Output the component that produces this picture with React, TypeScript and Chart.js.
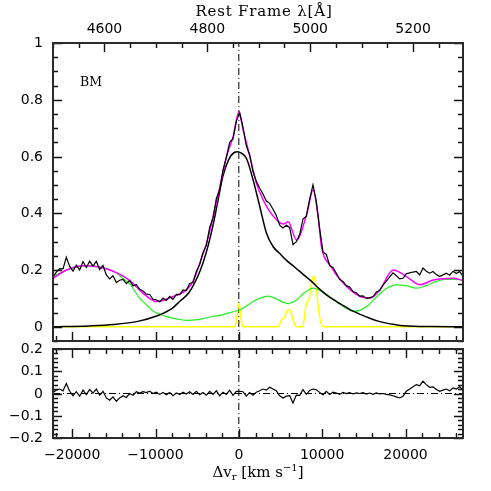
import React, { useEffect, useRef } from 'react';
import { Chart, registerables } from 'chart.js';

Chart.register(...registerables);

const V_MIN = -22300;
const V_MAX = 26900;
const LAMBDA_MIN = 4500;
const LAMBDA_MAX = 5297;

const V_START = -22300;
const V_STEP = 400;

const SPECTRUM = [
  0.176, 0.193, 0.205, 0.204, 0.245, 0.213, 0.196, 0.217, 0.200, 0.230,
  0.209, 0.231, 0.214, 0.231, 0.202, 0.216, 0.183, 0.169, 0.180, 0.156,
  0.164, 0.167, 0.152, 0.163, 0.144, 0.149, 0.132, 0.126, 0.115, 0.114,
  0.097, 0.095, 0.088, 0.101, 0.093, 0.107, 0.097, 0.114, 0.113, 0.130,
  0.128, 0.153, 0.156, 0.195, 0.219, 0.262, 0.286, 0.350, 0.384, 0.452,
  0.483, 0.552, 0.596, 0.650, 0.662, 0.725, 0.755, 0.703, 0.638, 0.606,
  0.547, 0.513, 0.489, 0.468, 0.443, 0.435, 0.414, 0.392, 0.358, 0.348,
  0.358, 0.350, 0.290, 0.300, 0.325, 0.380, 0.390, 0.450, 0.500, 0.440,
  0.345, 0.264, 0.255, 0.215, 0.209, 0.189, 0.167, 0.160, 0.145, 0.140,
  0.124, 0.120, 0.108, 0.109, 0.100, 0.103, 0.106, 0.123, 0.128, 0.147,
  0.161, 0.176, 0.190, 0.180, 0.169, 0.171, 0.187, 0.190, 0.193, 0.195,
  0.183, 0.207, 0.196, 0.189, 0.195, 0.184, 0.177, 0.183, 0.189, 0.182,
  0.196, 0.188, 0.195, 0.178,
];

const RESIDUAL = [
  0.005, 0.015, 0.020, 0.012, 0.045, 0.010, -0.010, 0.008, -0.012, 0.015,
  -0.005, 0.018, 0.002, 0.020, -0.008, 0.010, -0.020, -0.030, -0.015, -0.035,
  -0.020, -0.010, -0.018, 0.000, -0.008, 0.008, 0.002, 0.008, 0.004, 0.010,
  0.000, 0.006, -0.004, 0.005, -0.006, 0.004, -0.010, 0.002, -0.005, 0.006,
  -0.002, 0.008, -0.004, 0.010, -0.006, 0.004, -0.008, 0.010, -0.004, 0.012,
  -0.010, 0.006, -0.004, 0.015, -0.008, 0.010, 0.010, 0.008, -0.012, 0.004,
  -0.008, 0.006, 0.012, 0.020, 0.015, 0.028, 0.020, 0.012, -0.010, -0.020,
  -0.012, -0.010, -0.043, -0.007, -0.008, 0.017, -0.004, 0.014, 0.020, 0.017,
  0.005, -0.006, 0.010, -0.004, 0.006, 0.002, -0.004, 0.005, 0.000, 0.004,
  -0.002, 0.003, 0.000, 0.004, -0.003, 0.002, -0.004, 0.003, -0.002, 0.000,
  -0.004, -0.006, -0.010, -0.015, -0.020, -0.012, 0.010, 0.020, 0.030, 0.040,
  0.035, 0.055, 0.040, 0.028, 0.030, 0.018, 0.010, 0.015, 0.020, 0.012,
  0.025, 0.020, 0.030, 0.015,
];

const FIT_V = [-22300, -20680, -18680, -16680, -14680, -13080, -11480, -9880, -7880, -6280, -5500, -4680, -3880, -3080, -2280, -1480, -680, 0, 520, 1320, 2120, 2920, 3720, 4920, 5400, 5920, 6920, 8120, 8920, 9520, 9920, 10920, 12520, 14520, 15720, 16920, 18520, 20120, 21720, 23320, 25720, 26900];
const FIT_F = [0.171, 0.200, 0.215, 0.210, 0.191, 0.163, 0.118, 0.089, 0.107, 0.130, 0.160, 0.225, 0.294, 0.388, 0.493, 0.600, 0.670, 0.757, 0.693, 0.600, 0.505, 0.447, 0.406, 0.367, 0.362, 0.370, 0.306, 0.394, 0.482, 0.388, 0.282, 0.218, 0.154, 0.107, 0.101, 0.130, 0.200, 0.177, 0.148, 0.165, 0.171, 0.163];

const BROAD_V = [-22300, -18000, -15000, -12000, -9880, -8000, -7080, -6000, -4680, -3880, -3120, -2500, -1920, -1200, -500, -150, 300, 920, 1720, 2520, 3320, 4120, 4920, 5720, 6720, 7720, 8720, 9720, 10720, 11720, 12720, 13720, 14720, 15720, 16720, 17720, 18720, 19720, 21000, 23000, 26900];
const BROAD_F = [0.000, 0.003, 0.008, 0.020, 0.038, 0.065, 0.090, 0.120, 0.195, 0.265, 0.355, 0.445, 0.530, 0.590, 0.615, 0.617, 0.612, 0.593, 0.517, 0.423, 0.330, 0.282, 0.258, 0.234, 0.210, 0.185, 0.160, 0.132, 0.108, 0.089, 0.072, 0.055, 0.042, 0.030, 0.020, 0.013, 0.008, 0.004, 0.002, 0.001, 0.000];

const FE_V = [-22300, -21000, -19500, -18700, -17500, -16700, -15500, -14700, -13900, -13000, -11900, -11000, -10300, -9500, -8700, -7500, -6300, -5000, -3900, -2300, -700, 120, 1000, 1720, 2600, 3520, 4400, 5200, 5920, 6800, 7800, 8920, 9900, 10920, 11900, 12900, 13720, 14520, 15500, 16520, 17700, 18920, 20100, 21320, 22500, 23720, 24700, 25720, 26900];
const FE_F = [0.178, 0.195, 0.210, 0.215, 0.214, 0.210, 0.202, 0.190, 0.170, 0.148, 0.100, 0.075, 0.056, 0.045, 0.036, 0.028, 0.023, 0.025, 0.032, 0.040, 0.053, 0.060, 0.075, 0.089, 0.102, 0.108, 0.100, 0.088, 0.082, 0.092, 0.118, 0.136, 0.125, 0.105, 0.085, 0.065, 0.055, 0.058, 0.075, 0.105, 0.135, 0.148, 0.145, 0.136, 0.145, 0.160, 0.167, 0.167, 0.165];

const NARROW_V = [-22300, -650, -450, -300, -180, -60, 0, 60, 180, 300, 450, 650, 4700, 4950, 5150, 5400, 5650, 5850, 6050, 6250, 6450, 6650, 6900, 7650, 7850, 8050, 8250, 8450, 8650, 8850, 9000, 9150, 9350, 9550, 9750, 9950, 10200, 26900];
const NARROW_F = [0, 0, 0.004, 0.020, 0.050, 0.077, 0.081, 0.077, 0.050, 0.020, 0.004, 0, 0, 0.012, 0.025, 0.030, 0.045, 0.058, 0.060, 0.050, 0.030, 0.012, 0, 0, 0.030, 0.075, 0.090, 0.100, 0.140, 0.172, 0.177, 0.165, 0.120, 0.065, 0.025, 0.006, 0, 0];

const V_TICK_LABELS = [-20000, -10000, 0, 10000, 20000];
const LAMBDA_TICK_LABELS = [4600, 4800, 5000, 5200];
const FLUX_TICK_LABELS = [0, 0.2, 0.4, 0.6, 0.8, 1];
const RESID_TICK_LABELS = [-0.2, -0.1, 0, 0.1, 0.2];

const PANEL_LABEL = 'BM';
const TOP_TITLE = 'Rest Frame λ[Å]';

const NUM_FONT = '14px "DejaVu Sans", sans-serif';
const SERIF = '"DejaVu Serif", serif';

function fmt(v: number) {
  return String(+v.toFixed(2)).replace('-', '\u2212');
}
function pairs(vs: number[], fs: number[]) {
  return vs.map((v, i) => ({ x: v, y: fs[i] }));
}
function sampled(fs: number[]) {
  return fs.map((y, i) => ({ x: V_START + i * V_STEP, y }));
}
function isMultiple(v: number, step: number) {
  const r = v / step;
  return Math.abs(r - Math.round(r)) < 1e-6;
}

function axis(position: string, min: number, max: number, size: number) {
  const horizontal = position === 'top' || position === 'bottom';
  return {
    type: 'linear',
    position,
    min,
    max,
    grid: { display: false, drawTicks: false },
    border: { display: false },
    ticks: { display: false },
    afterFit: (s: any) => {
      if (horizontal) s.height = size;
      else s.width = size;
      s.paddingLeft = 0;
      s.paddingRight = 0;
      s.paddingTop = 0;
      s.paddingBottom = 0;
    },
  };
}

type TickSpec = { min: number; max: number; minor: number; major: number; labels?: number[] };

function framePlugin(spec: Record<string, TickSpec>, extra?: (ctx: CanvasRenderingContext2D, a: any) => void) {
  return {
    id: 'frameTicks',
    afterDraw(chart: any) {
      const ctx: CanvasRenderingContext2D = chart.ctx;
      const a = chart.chartArea;
      ctx.save();
      ctx.setLineDash([]);
      ctx.globalAlpha = 1;
      ctx.strokeStyle = '#111111';
      ctx.lineWidth = 1.4;
      ctx.lineCap = 'butt';
      ctx.fillStyle = '#000';
      ctx.font = NUM_FONT;
      for (const id of Object.keys(spec)) {
        const s = chart.scales[id];
        if (!s) continue;
        const { min, max, minor, major, labels } = spec[id];
        const pos = s.options.position;
        const first = Math.ceil(min / minor - 1e-9);
        const last = Math.floor(max / minor + 1e-9);
        ctx.beginPath();
        for (let k = first; k <= last; k++) {
          const v = k * minor;
          const p = Math.round(s.getPixelForValue(v)) + 0.5;
          const len = isMultiple(v, major) ? 9 : 5;
          if (pos === 'bottom') { ctx.moveTo(p, a.bottom); ctx.lineTo(p, a.bottom - len); }
          else if (pos === 'top') { ctx.moveTo(p, a.top); ctx.lineTo(p, a.top + len); }
          else if (pos === 'left') { ctx.moveTo(a.left, p); ctx.lineTo(a.left + len, p); }
          else { ctx.moveTo(a.right, p); ctx.lineTo(a.right - len, p); }
        }
        ctx.stroke();
        if (labels) {
          for (const v of labels) {
            const p = s.getPixelForValue(v);
            ctx.textAlign = pos === 'left' ? 'right' : 'center';
            ctx.textBaseline = 'middle';
            if (pos === 'left') ctx.fillText(fmt(v), a.left - 10, p + 0.5);
            else if (pos === 'top') ctx.fillText(fmt(v), p, a.top - 14);
            else if (pos === 'bottom') ctx.fillText(fmt(v), p, a.bottom + 17);
          }
        }
      }
      ctx.lineWidth = 2;
      ctx.strokeStyle = '#2a2a2a';
      ctx.strokeRect(a.left, a.top, a.right - a.left, a.bottom - a.top);
      if (extra) extra(ctx, a);
      ctx.restore();
    },
  };
}

const line = (data: any[], color: string, width: number, order: number, smooth = true, dash: number[] = []) => ({
  data,
  borderColor: color,
  borderWidth: width,
  pointRadius: 0,
  fill: false,
  tension: 0,
  cubicInterpolationMode: smooth ? 'monotone' : 'default',
  borderDash: dash,
  order,
});

const DASHDOT = [7, 3, 1, 3];

export default function App() {
  const mainRef = useRef<HTMLCanvasElement>(null);
  const resRef = useRef<HTMLCanvasElement>(null);

  useEffect(() => {
    const common = {
      responsive: false,
      animation: false,
      devicePixelRatio: 1,
      events: [],
      layout: { padding: 0 },
      plugins: { legend: { display: false }, tooltip: { enabled: false } },
    };

    const main = new Chart(mainRef.current as HTMLCanvasElement, {
      type: 'line',
      data: {
        datasets: [
          line(sampled(SPECTRUM), '#000000', 1.2, 0, false),
          line(pairs(FIT_V, FIT_F), '#ff00ff', 1.5, 1),
          line(pairs(BROAD_V, BROAD_F), '#000000', 1.5, 2),
          line(pairs(FE_V, FE_F), '#22ee22', 1.2, 3),
          line(pairs(NARROW_V, NARROW_F), '#ffff00', 1.5, 4),
          line([{ x: 0, y: -0.05 }, { x: 0, y: 1 }], '#000000', 1, 5, false, DASHDOT),
        ],
      },
      options: {
        ...common,
        scales: {
          x: axis('bottom', V_MIN, V_MAX, 2),
          xTop: axis('top', LAMBDA_MIN, LAMBDA_MAX, 43),
          y: axis('left', -0.05, 1, 53),
          y2: axis('right', -0.05, 1, 28),
        },
      },
      plugins: [
        framePlugin(
          {
            x: { min: V_MIN, max: V_MAX, minor: 2000, major: 10000 },
            xTop: { min: LAMBDA_MIN, max: LAMBDA_MAX, minor: 50, major: 200, labels: LAMBDA_TICK_LABELS },
            y: { min: -0.05, max: 1, minor: 0.05, major: 0.2, labels: FLUX_TICK_LABELS },
            y2: { min: -0.05, max: 1, minor: 0.05, major: 0.2 },
          },
          (ctx, a) => {
            ctx.fillStyle = '#000';
            ctx.font = '12.5px ' + SERIF;
            ctx.textAlign = 'left';
            ctx.textBaseline = 'alphabetic';
            ctx.fillText(PANEL_LABEL, a.left + 27, a.top + 42.5);
            ctx.font = '15px ' + SERIF;
            ctx.textAlign = 'center';
            ctx.textBaseline = 'middle';
            (ctx as any).letterSpacing = '0.8px';
            ctx.fillText(TOP_TITLE, (a.left + a.right) / 2 + 6, a.top - 31);
            (ctx as any).letterSpacing = '0px';
          },
        ),
      ],
    } as any);

    const res = new Chart(resRef.current as HTMLCanvasElement, {
      type: 'line',
      data: {
        datasets: [
          line(sampled(RESIDUAL), '#000000', 1.2, 0, false),
          line([{ x: V_MIN, y: 0 }, { x: V_MAX, y: 0 }], '#000000', 1, 1, false, DASHDOT),
          line([{ x: 0, y: -0.2 }, { x: 0, y: 0.2 }], '#000000', 1, 2, false, DASHDOT),
        ],
      },
      options: {
        ...common,
        scales: {
          x: axis('bottom', V_MIN, V_MAX, 53),
          xTop: axis('top', V_MIN, V_MAX, 6),
          y: axis('left', -0.2, 0.2, 53),
          y2: axis('right', -0.2, 0.2, 28),
        },
      },
      plugins: [
        framePlugin(
          {
            x: { min: V_MIN, max: V_MAX, minor: 2000, major: 10000, labels: V_TICK_LABELS },
            xTop: { min: V_MIN, max: V_MAX, minor: 2000, major: 10000 },
            y: { min: -0.2, max: 0.2, minor: 0.02, major: 0.1, labels: RESID_TICK_LABELS },
            y2: { min: -0.2, max: 0.2, minor: 0.02, major: 0.1 },
          },
          (ctx, a) => {
            const cx = (a.left + a.right) / 2;
            const y = a.bottom + 35;
            const big = '15px ' + SERIF;
            const small = '10px ' + SERIF;
            const parts: [string, string, number][] = [
              ['Δv', big, 0],
              ['r', small, 4],
              [' [km s', big, 0],
              ['−1', small, -5],
              [']', big, 0],
            ];
            let total = 0;
            for (const [t, f] of parts) { ctx.font = f; total += ctx.measureText(t).width; }
            let x = cx - total / 2;
            ctx.fillStyle = '#000';
            ctx.textAlign = 'left';
            ctx.textBaseline = 'middle';
            for (const [t, f, dy] of parts) {
              ctx.font = f;
              ctx.fillText(t, x, y + dy);
              x += ctx.measureText(t).width;
            }
          },
        ),
      ],
    } as any);

    return () => {
      main.destroy();
      res.destroy();
    };
  }, []);

  return (
    <div style={{ position: 'fixed', left: 0, top: 0, width: 491, height: 491, background: '#fff' }}>
      <canvas ref={mainRef} width={491} height={343} style={{ position: 'absolute', left: 0, top: 0, width: 491, height: 343, display: 'block' }} />
      <canvas ref={resRef} width={491} height={148} style={{ position: 'absolute', left: 0, top: 343, width: 491, height: 148, display: 'block' }} />
    </div>
  );
}
